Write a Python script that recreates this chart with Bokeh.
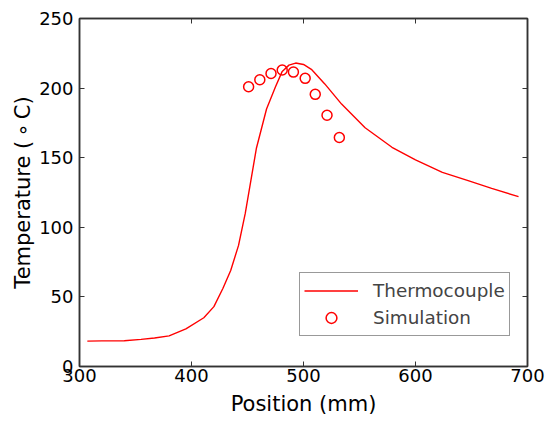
from bokeh.plotting import figure
from bokeh.models import Range1d, LinearAxis, FixedTicker
from bokeh.embed import file_html
from bokeh.resources import INLINE

tc_x = [307, 320, 340, 355, 367, 380, 395, 411, 420, 428, 435, 442, 448, 458, 467, 475, 481, 487, 493, 500, 507, 519, 534, 555, 579, 600, 624, 647, 668, 692]
tc_y = [18.2, 18.4, 18.5, 19.5, 20.5, 22, 27, 35, 43, 56, 69, 87, 110, 157, 185, 201, 212, 216.5, 218, 217, 213.5, 203, 188.5, 171.5, 157.5, 148.5, 139.5, 133.5, 128, 122]

sim_x = [451, 461, 471, 481, 491, 501.5, 510.5, 521, 532]
sim_y = [201, 206, 210.5, 213, 211.5, 207, 195.5, 180.5, 164.5]

x_ticks = [300, 400, 500, 600, 700]
y_ticks = [0, 50, 100, 150, 200, 250]

FONT = "DejaVu Sans"
AX = "#333333"

p = figure(frame_width=448, frame_height=348, output_backend="svg", toolbar_location=None,
           x_range=Range1d(300, 700), y_range=Range1d(0, 250),
           min_border_left=79, min_border_right=22, min_border_top=18, min_border_bottom=55)
p.xgrid.visible = False
p.ygrid.visible = False
p.outline_line_color = AX
p.outline_line_width = 1.5
p.background_fill_color = "white"
p.border_fill_color = "white"

def style(ax, ticks, labels=True):
    ax.ticker = FixedTicker(ticks=ticks)
    ax.minor_tick_line_color = None
    ax.major_tick_in = 5
    ax.major_tick_out = 0
    ax.major_tick_line_color = AX
    ax.major_tick_line_width = 1
    ax.axis_line_color = AX
    ax.axis_line_width = 1.5
    ax.major_label_text_font = FONT
    ax.major_label_text_font_size = "18px"
    ax.major_label_text_color = "black"
    ax.axis_label_text_font = FONT
    ax.axis_label_text_font_size = "21px"
    ax.axis_label_text_font_style = "normal"
    ax.axis_label_text_color = "black"
    if not labels:
        ax.major_label_text_color = None
        ax.major_label_standoff = 0
        ax.axis_label = None

style(p.xaxis[0], x_ticks)
style(p.yaxis[0], y_ticks)
p.xaxis[0].axis_label = "Position (mm)"
p.yaxis[0].axis_label = "Temperature (\u2009\u2218\u2009C)"
p.xaxis[0].major_label_standoff = 2
p.xaxis[0].axis_label_standoff = 7
p.yaxis[0].major_label_standoff = 6
p.yaxis[0].axis_label_standoff = 1

top = LinearAxis()
style(top, x_ticks, labels=False)
p.add_layout(top, "above")
right = LinearAxis()
style(right, y_ticks, labels=False)
p.add_layout(right, "right")

p.line(tc_x, tc_y, line_color="red", line_width=1.4, legend_label="Thermocouple")
p.scatter(sim_x, sim_y, marker="circle", size=10, fill_color=None, line_color="red",
          line_width=1.5, legend_label="Simulation")

lg = p.legend[0]
lg.location = (220, 30)
lg.border_line_color = AX
lg.border_line_width = 1.5
lg.background_fill_color = "white"
lg.background_fill_alpha = 1
lg.label_text_font = FONT
lg.label_text_font_size = "18.4px"
lg.glyph_width = 54
lg.glyph_height = 27
lg.label_height = 27
lg.label_standoff = 15
lg.padding = 4
lg.spacing = 0
lg.margin = 0

open("out.html", "w").write(file_html(p, INLINE))
